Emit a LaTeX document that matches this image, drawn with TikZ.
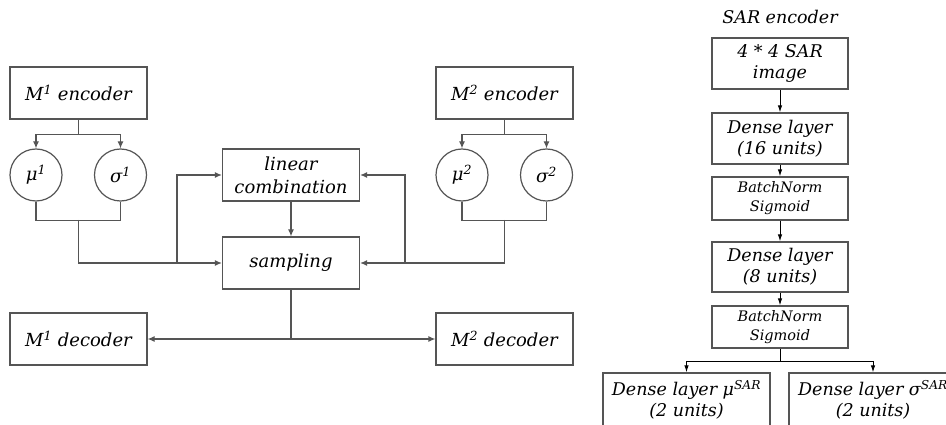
\documentclass[tikz,border=0pt]{standalone}
\usepackage{fontspec}
\setmainfont{DejaVu Serif}
\usetikzlibrary{arrows.meta}
\definecolor{linegray}{RGB}{85,85,85}
\tikzset{
    box/.style={draw=linegray, line width=1.2pt, minimum width=137pt, minimum height=52pt, inner sep=0pt, align=center, font=\fontsize{18}{23}\selectfont\itshape},
    latent/.style={draw=linegray, line width=1.2pt, circle, minimum size=52pt, inner sep=0pt, font=\fontsize{18}{23}\selectfont\itshape},
    arr/.style={draw=linegray, line width=1.2pt, -{Latex[length=7pt,width=6pt]}},
    wire/.style={draw=linegray, line width=1.2pt},
    sarbox/.style={draw=linegray, line width=1.2pt, minimum width=136pt, inner sep=0pt, align=center, font=\fontsize{17.5}{21}\selectfont\itshape},
    sarr/.style={draw=black, line width=1pt, -{Latex[length=7pt,width=4.5pt]}},
}
\begin{document}
\begin{tikzpicture}[x=1pt, y=-1pt]
        \useasboundingbox (0, 0) rectangle (946, 425);
        % left: two modalities
        \node[box] (enc1) at (78.5, 93) {M\textsuperscript{1} encoder};
        \node[box] (enc2) at (504.5, 93) {M\textsuperscript{2} encoder};
        \node[latent] (mu1) at (36, 175) {μ\textsuperscript{1}};
        \node[latent] (sig1) at (120.5, 175) {σ\textsuperscript{1}};
        \node[latent] (mu2) at (462, 175) {μ\textsuperscript{2}};
        \node[latent] (sig2) at (546.5, 175) {σ\textsuperscript{2}};
        \node[box] (lin) at (291, 175) {linear\\combination};
        \node[box] (samp) at (291, 263) {sampling};
        \node[box] (dec1) at (78.5, 339) {M\textsuperscript{1} decoder};
        \node[box] (dec2) at (504.5, 339) {M\textsuperscript{2} decoder};
        \draw[wire] (enc1.south) -- ++(0, 15) coordinate (s1);
        \draw[arr] (s1) -| (mu1.north);
        \draw[arr] (s1) -| (sig1.north);
        \draw[wire] (enc2.south) -- ++(0, 15) coordinate (s2);
        \draw[arr] (s2) -| (mu2.north);
        \draw[arr] (s2) -| (sig2.north);
        \draw[wire] (mu1.south) -- ++(0, 19) -| (sig1.south);
        \draw[wire] (mu2.south) -- ++(0, 19) -| (sig2.south);
        \coordinate (m1) at (78.5, 220);
        \coordinate (m2) at (504.5, 220);
        \coordinate (j1) at (177, 263);
        \coordinate (j2) at (405, 263);
        \draw[arr] (m1) |- (samp.west);
        \draw[arr] (m2) |- (samp.east);
        \draw[arr] (j1) |- (lin.west);
        \draw[arr] (j2) |- (lin.east);
        \draw[arr] (lin) -- (samp);
        \draw[wire] (samp.south) -- (samp.south |- dec1) coordinate (d0);
        \draw[arr] (d0) -- (dec1.east);
        \draw[arr] (d0) -- (dec2.west);
        % right: SAR encoder
        \node[font=\fontsize{17.5}{21}\selectfont\itshape] (title) at (780, 17) {SAR encoder};
        \node[sarbox, minimum height=51pt] (img) at (780, 63.5) {4 * 4 SAR\\image};
        \node[sarbox, minimum height=51pt] (d16) at (780, 138.5) {Dense layer\\(16 units)};
        \node[sarbox, minimum height=43pt, font=\fontsize{14.5}{19}\selectfont\itshape] (bn1) at (780, 198.5) {BatchNorm\\Sigmoid};
        \node[sarbox, minimum height=50pt] (d8) at (780, 267) {Dense layer\\(8 units)};
        \node[sarbox, minimum height=42pt, font=\fontsize{14.5}{19}\selectfont\itshape] (bn2) at (780, 327) {BatchNorm\\Sigmoid};
        \node[sarbox, minimum width=167pt, minimum height=54pt] (dmu) at (686.5, 400) {Dense layer μ\textsuperscript{SAR}\\(2 units)};
        \node[sarbox, minimum width=168pt, minimum height=54pt] (dsig) at (873, 400) {Dense layer σ\textsuperscript{SAR}\\(2 units)};
        \draw[sarr] (img) -- (d16);
        \draw[sarr] (d16) -- (bn1);
        \draw[sarr] (bn1) -- (d8);
        \draw[sarr] (d8) -- (bn2);
        \draw[black, line width=1pt] (bn2.south) -- ++(0, 13) coordinate (s3);
        \draw[sarr] (s3) -| (dmu.north);
        \draw[sarr] (s3) -| (dsig.north);
    \end{tikzpicture}
\end{document}
